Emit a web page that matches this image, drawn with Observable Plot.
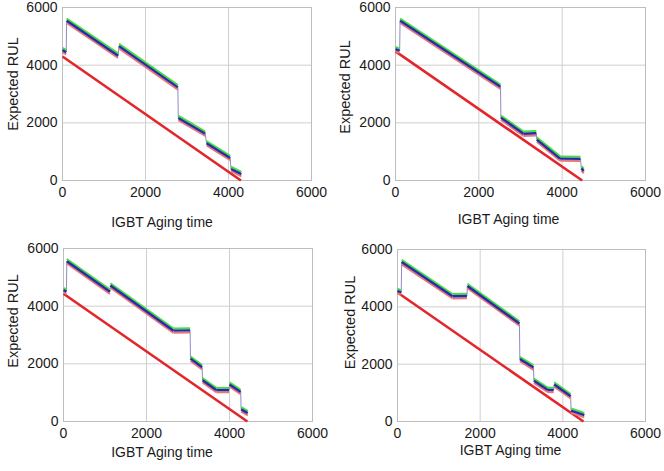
<!DOCTYPE html>
<html>
<head>
<meta charset="utf-8">
<script src="https://cdn.jsdelivr.net/npm/d3@7"></script>
<script src="https://cdn.jsdelivr.net/npm/@observablehq/plot@0.6"></script>
<style>
  html, body { margin: 0; padding: 0; background: #fff; }
  #root { position: relative; width: 664px; height: 471px; overflow: hidden; }
  .panel { position: absolute; }
</style>
</head>
<body>
<div id="root"></div>
<script>
// ---- data ----
const xTicks = [0, 2000, 4000, 6000];
const yTicks = [0, 2000, 4000, 6000];
const xLabel = "IGBT Aging time";
const yLabel = "Expected RUL";

// true end-of-life (red line goes from (0, EOL) to (EOL, 0))
const eolTimes = [4300, 4480, 4430, 4500];

// predicted RUL pieces: [t start, RUL start, t end, RUL end]
const panel1Segments = [
  [0, 4520, 90, 4450],
  [100, 5540, 1340, 4330],
  [1360, 4660, 2780, 3230],
  [2790, 2170, 3440, 1620],
  [3470, 1290, 4040, 780],
  [4060, 400, 4310, 220]
];
const panel2Segments = [
  [0, 4560, 100, 4500],
  [110, 5540, 2520, 3250],
  [2530, 2180, 3070, 1620],
  [3070, 1620, 3380, 1640],
  [3390, 1420, 3950, 760],
  [3950, 760, 4440, 750],
  [4460, 420, 4520, 330]
];
const panel3Segments = [
  [0, 4560, 70, 4500],
  [80, 5560, 1120, 4500],
  [1130, 4720, 2650, 3150],
  [2650, 3150, 3050, 3160],
  [3060, 2180, 3340, 1880],
  [3350, 1430, 3680, 1090],
  [3680, 1090, 3990, 1090],
  [4000, 1280, 4270, 1020],
  [4280, 420, 4440, 290]
];
const panel4Segments = [
  [0, 4560, 90, 4500],
  [100, 5560, 1330, 4370],
  [1330, 4370, 1680, 4380],
  [1690, 4730, 2950, 3420],
  [2960, 2180, 3290, 1880],
  [3300, 1420, 3640, 1100],
  [3640, 1100, 3780, 1100],
  [3790, 1290, 4190, 880],
  [4200, 380, 4520, 220]
];

// ---- layout (styles only) ----
const panels = [
  {segs: panel1Segments, eol: eolTimes[0], left: 0,   top: 0,   w: 332, h: 235, ml: 62, mr: 21, mt: 7,  mb: 55, xlx: -25, xly: 42, ylx: -49, yly: -10},
  {segs: panel2Segments, eol: eolTimes[1], left: 332, top: 0,   w: 332, h: 235, ml: 63, mr: 19, mt: 7,  mb: 55, xlx: -12, xly: 39, ylx: -50, yly: -7},
  {segs: panel3Segments, eol: eolTimes[2], left: 0,   top: 235, w: 332, h: 236, ml: 63, mr: 20, mt: 13, mb: 50, xlx: -26, xly: 31, ylx: -50, yly: -14},
  {segs: panel4Segments, eol: eolTimes[3], left: 332, top: 235, w: 332, h: 236, ml: 65, mr: 19, mt: 14, mb: 50, xlx: -11, xly: 29, ylx: -47, yly: -13}
];

const root = document.getElementById("root");
const fmt = d => String(d);

panels.forEach(p => {
  const connectors = p.segs.slice(1).map((s, i) => [p.segs[i][2], p.segs[i][3], s[0], s[1]]);
  const chart = Plot.plot({
    width: p.w,
    height: p.h,
    marginLeft: p.ml,
    marginRight: p.mr,
    marginTop: p.mt,
    marginBottom: p.mb,
    style: {fontFamily: "'Liberation Sans', Arial, sans-serif", fontSize: "14px", color: "#1a1a1a", background: "transparent", overflow: "visible"},
    x: {domain: [0, 6000]},
    y: {domain: [0, 6000]},
    marks: [
      Plot.gridX(xTicks, {stroke: "#cfcfcf", strokeOpacity: 1, strokeWidth: 1}),
      Plot.gridY(yTicks, {stroke: "#cfcfcf", strokeOpacity: 1, strokeWidth: 1}),
      Plot.frame({stroke: "#bdbdbd", strokeWidth: 1}),
      Plot.axisX(xTicks, {tickSize: 0, tickPadding: 7, label: null, fontSize: 14, tickFormat: fmt}),
      Plot.axisY(yTicks, {tickSize: 0, tickPadding: 5, label: null, fontSize: 14, tickFormat: fmt}),
      // true RUL
      Plot.link([p.eol], {x1: () => 0, y1: d => d, x2: d => d, y2: () => 0, stroke: "#e3262b", strokeWidth: 2.6}),
      // predicted RUL – vertical connectors
      Plot.link(connectors, {x1: d => d[0], y1: d => d[1], x2: d => d[2], y2: d => d[3], stroke: "#8c8cc8", strokeWidth: 1}),
      // predicted RUL – band of three estimates
      Plot.link(p.segs, {x1: d => d[0], y1: d => d[1], x2: d => d[2], y2: d => d[3], stroke: "#e87878", strokeWidth: 2, dy: 2.2}),
      Plot.link(p.segs, {x1: d => d[0], y1: d => d[1], x2: d => d[2], y2: d => d[3], stroke: "#3ee23e", strokeWidth: 2, dy: -2.2}),
      Plot.link(p.segs, {x1: d => d[0], y1: d => d[1], x2: d => d[2], y2: d => d[3], stroke: "#2a2aa8", strokeWidth: 2.4}),
      // axis titles
      Plot.text([xLabel], {frameAnchor: "bottom", lineAnchor: "middle", text: d => d, dx: p.xlx, dy: p.xly, fontSize: 14, fill: "#1a1a1a"}),
      Plot.text([yLabel], {frameAnchor: "left", lineAnchor: "middle", textAnchor: "middle", rotate: -90, text: d => d, dx: p.ylx, dy: p.yly, fontSize: 14.5, fill: "#1a1a1a"})
    ]
  });
  const wrap = document.createElement("div");
  wrap.className = "panel";
  wrap.style.left = p.left + "px";
  wrap.style.top = p.top + "px";
  wrap.appendChild(chart);
  root.appendChild(wrap);
});
</script>
</body>
</html>
